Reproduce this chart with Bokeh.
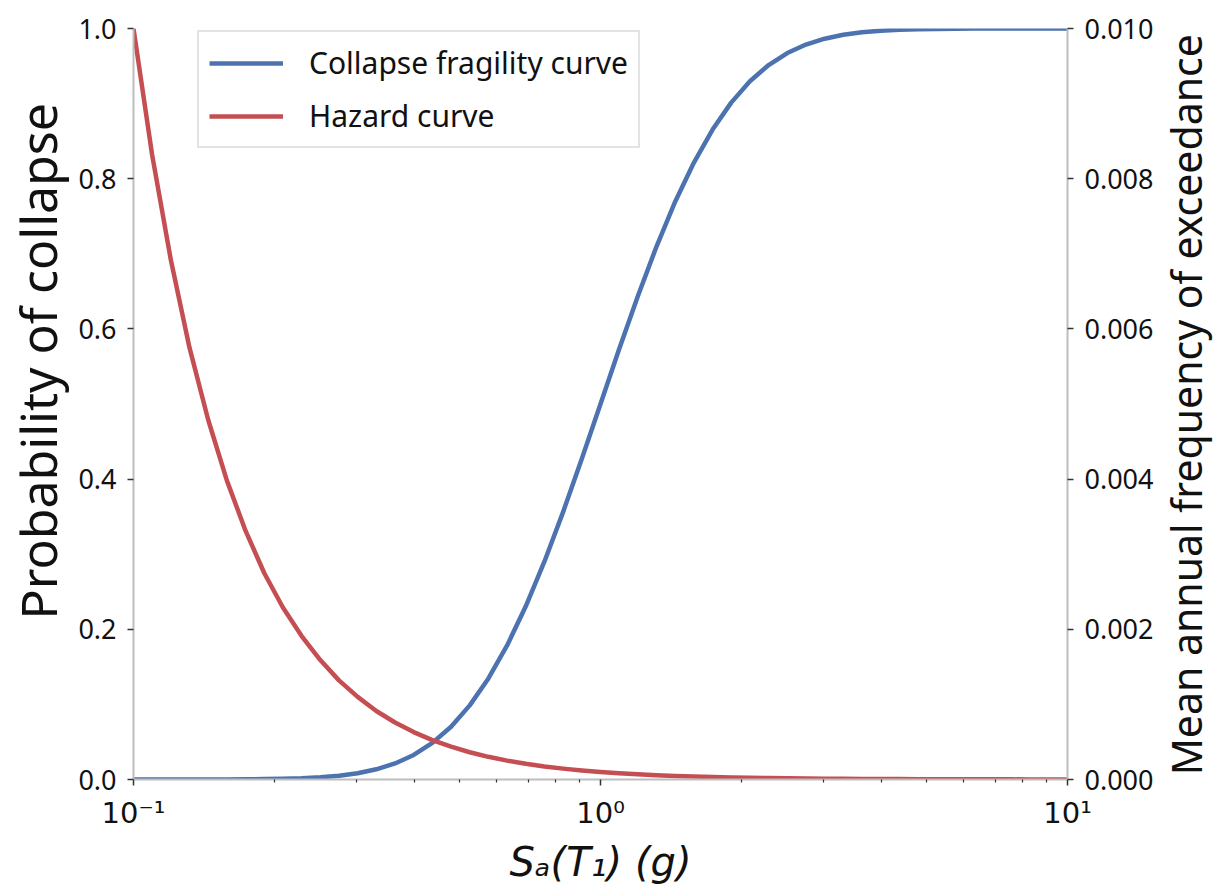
import math
from bokeh.plotting import figure
from bokeh.layouts import row
from bokeh.models import Range1d, LinearAxis, FixedTicker, Legend, LegendItem, Label
from bokeh.embed import file_html
from bokeh.resources import INLINE

# Spectral acceleration Sa(T1) in g, evenly spaced in log10
sa = [0.1000, 0.1096, 0.1202, 0.1318, 0.1445, 0.1585, 0.1738, 0.1905, 0.2089, 0.2291,
      0.2512, 0.2754, 0.3020, 0.3311, 0.3631, 0.3981, 0.4365, 0.4786, 0.5248, 0.5754,
      0.6310, 0.6918, 0.7586, 0.8318, 0.9120, 1.000, 1.096, 1.202, 1.318, 1.445,
      1.585, 1.738, 1.905, 2.089, 2.291, 2.512, 2.754, 3.020, 3.311, 3.631,
      3.981, 4.365, 4.786, 5.248, 5.754, 6.310, 6.918, 7.586, 8.318, 9.120, 10.00]

# Probability of collapse (left axis)
p_collapse = [0.0, 0.0, 0.0, 0.0, 0.0001, 0.0001, 0.0002, 0.0005, 0.0009, 0.0016,
              0.0029, 0.0050, 0.0083, 0.0136, 0.0214, 0.0327, 0.0487, 0.0703, 0.0987, 0.1346,
              0.1785, 0.2306, 0.2903, 0.3564, 0.4270, 0.5000, 0.5730, 0.6436, 0.7097, 0.7694,
              0.8215, 0.8654, 0.9013, 0.9297, 0.9513, 0.9673, 0.9786, 0.9864, 0.9917, 0.9950,
              0.9971, 0.9984, 0.9991, 0.9995, 0.9998, 0.9999, 1.0, 1.0, 1.0, 1.0, 1.0]

# Mean annual frequency of exceedance (right axis)
hazard = [0.01000, 0.00832, 0.00692, 0.00575, 0.00479, 0.00398, 0.00331, 0.00275, 0.00229, 0.00191,
          0.00159, 0.00132, 0.00110, 0.000912, 0.000759, 0.000631, 0.000525, 0.000437, 0.000363, 0.000302,
          0.000251, 0.000209, 0.000174, 0.000145, 0.000120, 0.000100, 0.000083, 0.000069, 0.000058, 0.000048,
          0.000040, 0.000033, 0.000028, 0.000023, 0.000019, 0.000016, 0.000013, 0.000011, 0.000009, 0.000008,
          0.000006, 0.000005, 0.000004, 0.000004, 0.000003, 0.000003, 0.000002, 0.000002, 0.000001, 0.000001,
          0.000001]

x_major = [0.1, 1.0, 10.0]
x_major_labels = {0.1: "10\u207b\u00b9", 1.0: "10\u2070", 10.0: "10\u00b9"}
x_minor = [0.2, 0.3, 0.4, 0.5, 0.6, 0.7, 0.8, 0.9, 2, 3, 4, 5, 6, 7, 8, 9]
left_ticks = [0.0, 0.2, 0.4, 0.6, 0.8, 1.0]
right_ticks = [0.0, 0.002, 0.004, 0.006, 0.008, 0.010]

BLUE = "#4c72b0"
RED = "#c44e52"
SPINE = "#bdbdbd"
TICK = "#333333"
INK = "#111111"
FONT = "Noto Sans"

LEFT_W, MAIN_W, RIGHT_W, H = 72, 1085, 57, 888


def title_strip(width, text, x, y, size):
    """Narrow blank panel that carries one rotated axis title."""
    s = figure(width=width, height=H, x_range=Range1d(0, 1), y_range=Range1d(0, 1),
               output_backend="svg", toolbar_location=None,
               x_axis_location=None, y_axis_location=None,
               min_border=0, min_border_left=0, min_border_right=0,
               min_border_top=0, min_border_bottom=0)
    s.outline_line_color = None
    s.grid.visible = False
    s.add_layout(Label(x=x, y=y, text=text, angle=math.pi / 2,
                       text_align="center", text_baseline="middle",
                       text_font=FONT, text_font_size=size, text_color=INK))
    return s


p = figure(width=MAIN_W, height=H, x_axis_type="log",
           x_range=Range1d(0.1, 10), y_range=Range1d(0, 1),
           output_backend="svg", toolbar_location=None,
           min_border_left=133 - LEFT_W, min_border_right=LEFT_W + MAIN_W - 1067,
           min_border_top=28, min_border_bottom=109)
p.outline_line_color = None
p.grid.visible = False
p.background_fill_color = "white"
p.border_fill_color = "white"

p.extra_y_ranges = {"haz": Range1d(0, 0.01)}
raxis = LinearAxis(y_range_name="haz")
p.add_layout(raxis, "right")

r_frag = p.line(sa, p_collapse, line_color=BLUE, line_width=4.5, line_join="round")
r_haz = p.line(sa, hazard, line_color=RED, line_width=4.5, line_join="round",
               y_range_name="haz")

for ax in [p.xaxis[0], p.yaxis[0], raxis]:
    ax.axis_line_color = SPINE
    ax.axis_line_width = 2
    ax.major_tick_line_color = TICK
    ax.major_tick_line_width = 1.5
    ax.major_tick_out = 6
    ax.major_tick_in = 0
    ax.minor_tick_line_color = TICK
    ax.minor_tick_line_width = 1.2
    ax.minor_tick_out = 3
    ax.minor_tick_in = 0
    ax.major_label_text_font = FONT
    ax.major_label_text_font_size = "27px"
    ax.major_label_text_color = INK
    ax.major_label_standoff = 11

xa = p.xaxis[0]
xa.ticker = FixedTicker(ticks=x_major, minor_ticks=x_minor)
xa.major_label_overrides = x_major_labels
xa.major_label_text_font = "DejaVu Sans"
xa.major_label_text_font_size = "29px"
xa.major_label_standoff = 10
xa.axis_label = "S\u2090(T\u2081) (g)"
xa.axis_label_text_font = "DejaVu Sans"
xa.axis_label_text_font_style = "italic"
xa.axis_label_text_font_size = "40px"
xa.axis_label_text_color = INK
xa.axis_label_standoff = 6

ya = p.yaxis[0]
ya.ticker = FixedTicker(ticks=left_ticks)
ya.major_label_overrides = {t: f"{t:.1f}" for t in left_ticks}

raxis.ticker = FixedTicker(ticks=right_ticks)
raxis.major_label_overrides = {t: f"{t:.3f}" for t in right_ticks}

legend = Legend(items=[LegendItem(label="Collapse fragility curve", renderers=[r_frag]),
                       LegendItem(label="Hazard curve", renderers=[r_haz])],
                location=(64, 631), margin=0, padding=10, spacing=12,
                glyph_width=74, glyph_height=36, label_height=36,
                label_standoff=26, label_text_font=FONT,
                label_text_font_size="30px", label_text_color=INK,
                border_line_color="#c8c8c8", border_line_width=2,
                background_fill_color="white", background_fill_alpha=1.0)
p.add_layout(legend, "center")

left_title = title_strip(LEFT_W, "Probability of collapse", 0.52, 0.557, "50px")
right_title = title_strip(RIGHT_W, "Mean annual frequency of exceedance", 0.5, 0.499, "41px")

page = row(left_title, p, right_title, spacing=0)

open("out.html", "w").write(file_html(page, INLINE))
